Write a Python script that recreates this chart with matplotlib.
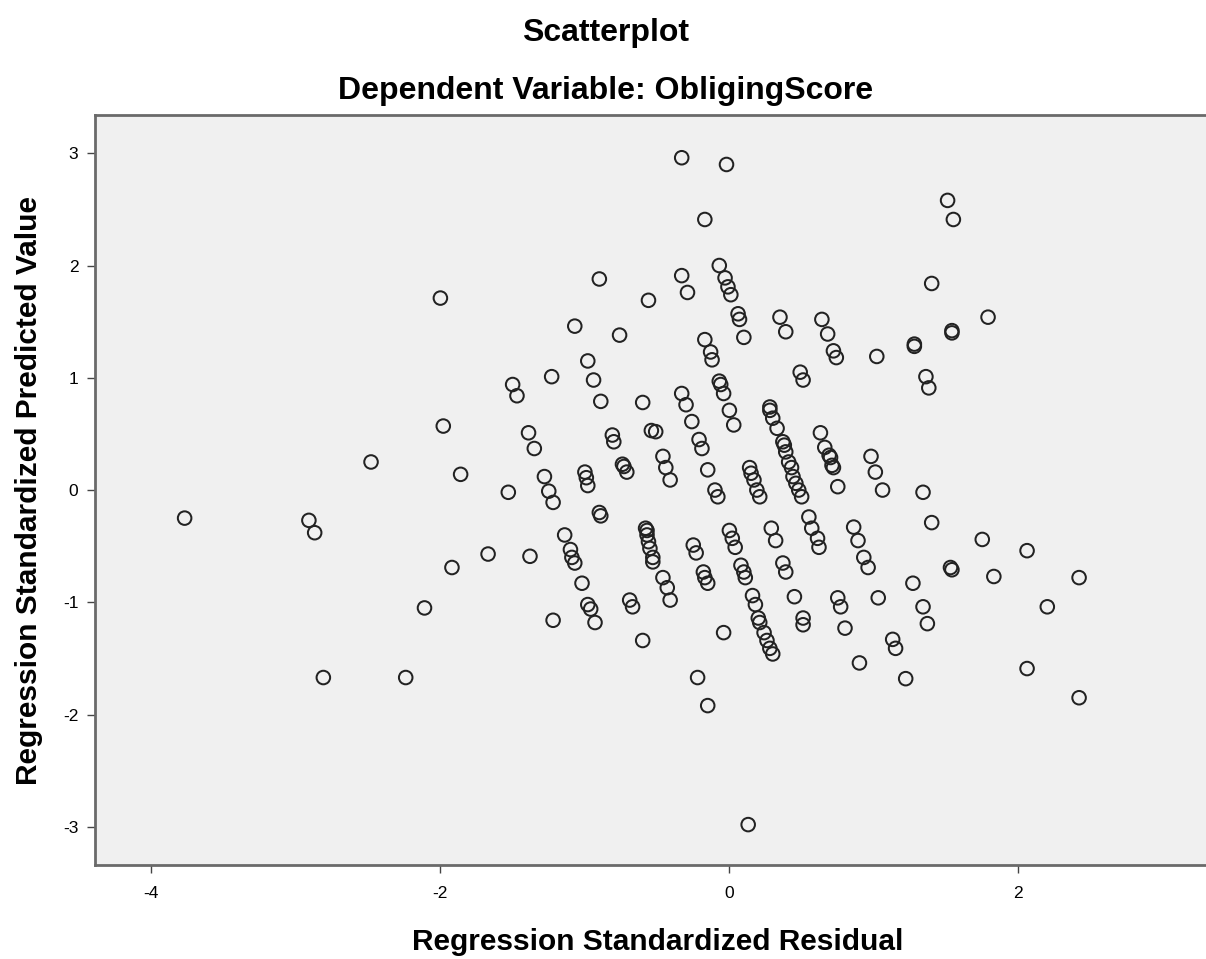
import numpy as np
import matplotlib
matplotlib.use("Agg")
import matplotlib.pyplot as plt

plt.rcParams['font.family'] = ['Liberation Sans', 'DejaVu Sans']
plt.rcParams['axes.unicode_minus'] = False

# standardized residuals (x) and standardized predicted values (y)
resid = [
    -0.33, -0.02, -0.17, 1.51, 1.55, -2.00, -0.90, -0.56, -0.33, -0.29,
    -0.07, -0.03, -0.01, 0.01, 0.06, 0.07, 0.10, 0.35, 0.39, 0.64,
    0.68, 0.72, 0.74, 1.02, 1.28, 1.28, 1.40, 1.79, 1.54, 1.54,
    -0.17, -0.13, -0.12, -1.07, -0.76, -0.98, -1.23, -1.50, -1.47, -0.94,
    -0.89, -0.60, -0.54, -1.98, -2.48, -1.39, -1.35, -1.86, -1.53, -1.28,
    -1.25, -1.22, -1.00, -0.99, -0.98, -0.81, -0.80, -0.74, -0.73, -0.71,
    -0.90, -0.89, -0.58, -0.57, -0.57, -0.56, -0.55, -0.53, -0.53, -1.14,
    -1.10, -1.09, -1.07, -1.67, -1.38, -1.92, -1.02, -0.98, -0.96, -0.69,
    -0.67, -2.11, -1.22, -3.77, -2.91, -2.87, -2.81, -2.24, -0.93, -0.60,
    0.49, 0.51, 1.36, 1.38, -0.33, -0.30, -0.07, -0.06, -0.04, 0.00,
    0.03, -0.51, -0.26, -0.21, -0.19, -0.46, -0.44, -0.41, -0.15, -0.10,
    -0.08, 0.14, 0.15, 0.17, 0.19, 0.21, 0.28, 0.28, 0.30, 0.33,
    0.37, 0.38, 0.39, 0.41, 0.43, 0.44, 0.46, 0.48, 0.50, 0.63,
    0.66, 0.69, 0.70, 0.71, 0.72, 0.75, 0.98, 1.01, 1.06, 1.34,
    1.40, 0.55, 0.57, 0.61, 0.62, 0.86, 0.89, 0.93, 0.96, 0.00,
    0.02, 0.04, 0.29, 0.32, -0.25, -0.23, -0.18, -0.17, -0.15, -0.46,
    -0.43, -0.41, 0.08, 0.10, 0.11, 0.16, 0.18, 0.37, 0.39, 0.45,
    0.75, 0.77, 1.03, 1.27, 1.34, 1.75, 2.06, 1.53, 1.54, 1.83,
    2.42, 2.20, -0.04, -0.22, -0.15, 0.13, 0.20, 0.21, 0.24, 0.26,
    0.28, 0.30, 0.51, 0.51, 0.80, 0.90, 1.13, 1.15, 1.22, 1.37,
    2.06, 2.42,
]
pred = [
    2.96, 2.90, 2.41, 2.58, 2.41, 1.71, 1.88, 1.69, 1.91, 1.76,
    2.00, 1.89, 1.81, 1.74, 1.57, 1.52, 1.36, 1.54, 1.41, 1.52,
    1.39, 1.24, 1.18, 1.19, 1.28, 1.30, 1.84, 1.54, 1.40, 1.42,
    1.34, 1.23, 1.16, 1.46, 1.38, 1.15, 1.01, 0.94, 0.84, 0.98,
    0.79, 0.78, 0.53, 0.57, 0.25, 0.51, 0.37, 0.14, -0.02, 0.12,
    -0.01, -0.11, 0.16, 0.11, 0.04, 0.49, 0.43, 0.23, 0.21, 0.16,
    -0.20, -0.23, -0.34, -0.36, -0.40, -0.46, -0.52, -0.60, -0.64, -0.40,
    -0.53, -0.60, -0.65, -0.57, -0.59, -0.69, -0.83, -1.02, -1.06, -0.98,
    -1.04, -1.05, -1.16, -0.25, -0.27, -0.38, -1.67, -1.67, -1.18, -1.34,
    1.05, 0.98, 1.01, 0.91, 0.86, 0.76, 0.97, 0.94, 0.86, 0.71,
    0.58, 0.52, 0.61, 0.45, 0.37, 0.30, 0.20, 0.09, 0.18, 0.00,
    -0.06, 0.20, 0.15, 0.09, 0.00, -0.06, 0.74, 0.71, 0.64, 0.55,
    0.43, 0.40, 0.34, 0.25, 0.20, 0.12, 0.06, 0.00, -0.06, 0.51,
    0.38, 0.31, 0.29, 0.22, 0.20, 0.03, 0.30, 0.16, 0.00, -0.02,
    -0.29, -0.24, -0.34, -0.43, -0.51, -0.33, -0.45, -0.60, -0.69, -0.36,
    -0.43, -0.51, -0.34, -0.45, -0.49, -0.56, -0.73, -0.78, -0.83, -0.78,
    -0.87, -0.98, -0.67, -0.73, -0.78, -0.94, -1.02, -0.65, -0.73, -0.95,
    -0.96, -1.04, -0.96, -0.83, -1.04, -0.44, -0.54, -0.69, -0.71, -0.77,
    -0.78, -1.04, -1.27, -1.67, -1.92, -2.98, -1.14, -1.18, -1.27, -1.34,
    -1.41, -1.46, -1.14, -1.20, -1.23, -1.54, -1.33, -1.41, -1.68, -1.19,
    -1.59, -1.85,
]

x_ticks = [-4, -2, 0, 2]
y_ticks = [-3, -2, -1, 0, 1, 2, 3]

fig = plt.figure(figsize=(12.06, 9.59), dpi=100)
ax = fig.add_axes([0.0788, 0.098, 0.925, 0.782])
ax.set_facecolor('#f0f0f0')

ax.scatter(resid, pred, s=95, facecolors='none', edgecolors='#222222', linewidths=1.45)

ax.set_xlim(-4.39, 3.33)
ax.set_ylim(-3.34, 3.34)
ax.set_xticks(x_ticks)
ax.set_yticks(y_ticks)
ax.tick_params(axis='both', labelsize=12.5, length=6, width=1, color='#444444')
ax.tick_params(axis='x', pad=9)
ax.tick_params(axis='y', pad=6)

for side in ['left', 'bottom', 'top', 'right']:
    ax.spines[side].set_color('#6a6a6a')
    ax.spines[side].set_linewidth(2)

fig.text(0.502, 0.966, 'Scatterplot', ha='center', va='center', fontsize=23, fontweight='bold')
fig.text(0.502, 0.905, 'Dependent Variable: ObligingScore', ha='center', va='center',
         fontsize=23, fontweight='bold')
fig.text(0.545, 0.018, 'Regression Standardized Residual', ha='center', va='center',
         fontsize=21.5, fontweight='bold')
fig.text(0.024, 0.489, 'Regression Standardized Predicted Value', ha='center', va='center',
         rotation=90, fontsize=21.5, fontweight='bold')

plt.savefig('out.png', dpi=100)
